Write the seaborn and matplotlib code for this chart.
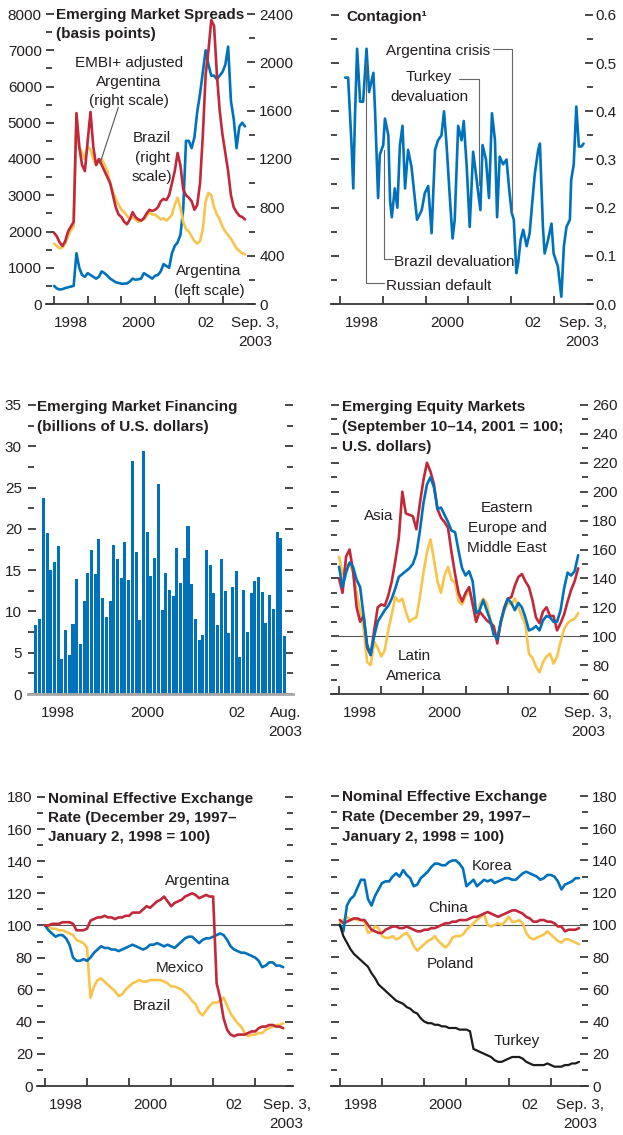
import numpy as np
import pandas as pd
import seaborn as sns
import matplotlib.pyplot as plt
from matplotlib.ticker import MultipleLocator, FormatStrFormatter

W, H = 623, 1135
BLUE = "#0072bb"
RED = "#c1283a"
YELLOW = "#f8c44b"
BLACK = "#1c1c1c"
INK = "#231f20"
AXIS = "#3a3a3a"

# monthly observations, Jan 1998 .. Sep 2003
months = 1998 + np.arange(69) / 12

# --- Emerging market spreads (basis points) ---
argentina_spread = [500, 430, 400, 410, 440, 460, 480, 500, 1400, 1000, 800, 750,
                    850, 800, 750, 700, 750, 900, 850, 780, 700, 650, 600, 580,
                    560, 560, 570, 620, 700, 670, 680, 700, 850, 800, 750, 700,
                    780, 800, 900, 1100, 1050, 1000, 1400, 1600, 1700, 1900, 2600, 4500,
                    4500, 4300, 4600, 5300, 5800, 6400, 7000, 6600, 6300, 6300, 6200, 6300,
                    6400, 6600, 7100, 5600, 5100, 4300, 4900, 5000, 4900]
embi_adjusted = [500, 480, 460, 470, 500, 560, 610, 640, 1550, 1300, 1250, 1200,
                 1300, 1280, 1200, 1150, 1180, 1200, 1150, 1100, 1000, 930, 870, 820,
                 780, 760, 730, 700, 720, 700, 680, 690, 700, 730, 760, 740,
                 740, 720, 700, 710, 690, 710, 740, 820, 880, 800, 680, 620,
                 600, 560, 520, 500, 520, 620, 850, 920, 900, 800, 740, 700,
                 640, 600, 570, 540, 500, 460, 440, 420, 410]
brazil_spread = [590, 560, 510, 480, 520, 600, 640, 680, 1580, 1300, 1150, 1100,
                 1350, 1590, 1300, 1150, 1200, 1150, 1100, 1050, 1000, 900, 800, 740,
                 720, 680, 660, 700, 760, 720, 700, 690, 710, 750, 780, 770,
                 780, 800, 850, 870, 860, 900, 1000, 1100, 1250, 1150, 950, 900,
                 880, 850, 780, 820, 1000, 1400, 1900, 2100, 2350, 2300, 1900, 1600,
                 1400, 1250, 1100, 900, 800, 760, 730, 720, 700]

# --- Contagion index (irregular readings) ---
contagion_dates = [1998.12, 1998.19, 1998.27, 1998.31, 1998.35, 1998.40, 1998.47, 1998.54,
                   1998.62, 1998.68, 1998.78, 1998.82, 1998.89, 1998.93, 1999.01, 1999.05,
                   1999.13, 1999.17, 1999.21, 1999.28, 1999.34, 1999.40, 1999.46, 1999.52,
                   1999.59, 1999.67, 1999.80, 1999.91, 1999.98, 2000.06, 2000.14, 2000.22,
                   2000.29, 2000.37, 2000.43, 2000.49, 2000.57, 2000.63, 2000.68, 2000.76,
                   2000.84, 2000.89, 2000.96, 2001.03, 2001.11, 2001.19, 2001.23, 2001.28,
                   2001.33, 2001.41, 2001.48, 2001.55, 2001.62, 2001.67, 2001.73, 2001.81,
                   2001.89, 2001.95, 2002.01, 2002.06, 2002.12, 2002.16, 2002.22, 2002.28,
                   2002.36, 2002.43, 2002.50, 2002.55, 2002.63, 2002.67, 2002.74, 2002.78,
                   2002.86, 2002.94, 2002.99, 2003.09, 2003.17, 2003.23, 2003.29, 2003.37,
                   2003.40, 2003.46, 2003.52, 2003.58, 2003.64, 2003.69]
contagion = [0.47, 0.47, 0.33, 0.24, 0.39, 0.53, 0.42, 0.42,
             0.53, 0.44, 0.48, 0.40, 0.22, 0.31, 0.33, 0.385,
             0.35, 0.215, 0.18, 0.24, 0.20, 0.33, 0.37, 0.24,
             0.32, 0.285, 0.175, 0.195, 0.23, 0.245, 0.147, 0.32,
             0.34, 0.35, 0.40, 0.33, 0.215, 0.136, 0.175, 0.37,
             0.34, 0.38, 0.285, 0.16, 0.316, 0.26, 0.23, 0.195,
             0.33, 0.30, 0.22, 0.396, 0.34, 0.18, 0.306, 0.29,
             0.30, 0.24, 0.19, 0.175, 0.064, 0.084, 0.133, 0.154,
             0.12, 0.147, 0.22, 0.27, 0.32, 0.333, 0.16, 0.105,
             0.133, 0.167, 0.105, 0.078, 0.015, 0.12, 0.16, 0.175,
             0.257, 0.29, 0.41, 0.327, 0.327, 0.333]
events = {"Russian default": 1998.61, "Brazil devaluation": 1999.03,
          "Turkey devaluation": 2001.25, "Argentina crisis": 2002.02}

# --- Emerging market financing, Jan 1998 .. Aug 2003 (billions of US$) ---
financing_months = pd.period_range("1998-01", "2003-08", freq="M").strftime("%b %Y")
financing = [8.4, 9.1, 23.7, 19.5, 15.0, 16.0, 17.9, 4.2, 7.7, 4.7, 8.5, 13.9,
             6.0, 11.3, 14.6, 17.5, 14.5, 18.8, 11.6, 9.3, 11.3, 18.0, 16.3, 14.0,
             18.4, 13.8, 28.2, 17.2, 9.0, 29.4, 19.6, 14.3, 16.5, 25.4, 10.2, 14.6,
             12.6, 11.9, 17.7, 13.4, 16.5, 20.4, 13.3, 9.1, 6.5, 7.1, 17.4, 15.6,
             12.2, 8.4, 16.3, 12.5, 7.4, 12.9, 14.9, 4.5, 12.6, 7.5, 12.2, 13.7,
             14.2, 12.3, 8.6, 12.0, 10.3, 19.6, 18.9, 7.0]

# --- Emerging equity markets (Sep 10-14, 2001 = 100) ---
latin_america = [155, 143, 149, 150, 144, 130, 118, 105, 82, 80, 96, 92,
                 86, 90, 104, 115, 127, 124, 126, 117, 110, 112, 113, 127,
                 144, 158, 167, 153, 138, 130, 142, 148, 139, 137, 124, 122,
                 128, 132, 124, 110, 122, 126, 123, 112, 106, 97, 109, 118,
                 123, 122, 126, 120, 114, 108, 88, 85, 79, 75, 82, 86,
                 88, 81, 86, 96, 105, 109, 111, 112, 116]
asia = [140, 130, 155, 160, 145, 120, 110, 114, 92, 87, 104, 120,
        122, 121, 128, 138, 152, 168, 200, 185, 184, 183, 174, 192,
        208, 220, 214, 205, 188, 182, 179, 175, 158, 143, 130, 124,
        130, 134, 122, 110, 117, 114, 111, 109, 107, 95, 110, 120,
        126, 127, 135, 141, 143, 138, 134, 125, 113, 109, 117, 120,
        114, 114, 104, 109, 115, 124, 132, 138, 147]
eastern_europe = [148, 134, 144, 151, 148, 139, 134, 114, 94, 87, 100, 110,
                  114, 118, 121, 126, 133, 141, 143, 145, 147, 150, 157, 173,
                  192, 205, 210, 203, 188, 189, 184, 179, 173, 172, 159, 147,
                  142, 145, 138, 116, 118, 125, 118, 111, 101, 98, 110, 119,
                  126, 123, 118, 123, 120, 113, 104, 105, 107, 104, 111, 114,
                  113, 110, 110, 118, 133, 144, 142, 145, 156]

# --- Nominal effective exchange rates (Dec 29, 1997 - Jan 2, 1998 = 100) ---
mexico = [100, 97, 95, 93, 94, 94, 92, 88, 80, 78, 78, 79,
          78, 80, 83, 85, 87, 86, 86, 85, 85, 84, 85, 86,
          87, 88, 87, 86, 85, 86, 88, 88, 89, 88, 87, 88,
          87, 86, 88, 90, 92, 93, 93, 91, 89, 91, 92, 92,
          93, 94, 95, 94, 91, 87, 85, 84, 83, 83, 82, 81,
          80, 78, 74, 75, 77, 77, 75, 75, 74]
brazil_neer = [100, 99, 98, 98, 97, 97, 96, 95, 94, 91, 90, 89,
               86, 55, 62, 66, 67, 65, 63, 61, 59, 56, 57, 60,
               62, 64, 65, 66, 65, 65, 66, 66, 66, 66, 65, 64,
               62, 62, 61, 60, 58, 56, 53, 51, 46, 44, 47, 50,
               52, 52, 53, 55, 50, 45, 42, 39, 37, 33, 31, 32,
               32, 33, 33, 35, 36, 37, 38, 38, 39]
argentina_neer = [100, 100, 101, 101, 101, 102, 102, 102, 101, 97, 97, 97,
                  98, 103, 104, 105, 105, 106, 105, 105, 104, 105, 105, 106,
                  106, 108, 108, 108, 110, 112, 111, 113, 115, 116, 118, 115,
                  112, 114, 115, 116, 118, 119, 120, 119, 117, 118, 119, 118,
                  118, 64, 55, 42, 35, 32, 31, 32, 32, 32, 33, 34,
                  34, 36, 37, 37, 38, 38, 37, 37, 36]
korea = [100, 96, 112, 116, 118, 123, 128, 128, 116, 112, 118, 122,
         126, 127, 127, 130, 132, 130, 134, 131, 129, 124, 125, 129,
         131, 133, 136, 138, 138, 137, 137, 139, 140, 140, 138, 135,
         124, 126, 128, 124, 126, 128, 127, 128, 126, 127, 128, 129,
         129, 128, 128, 130, 132, 133, 132, 131, 130, 128, 129, 131,
         131, 130, 127, 122, 125, 126, 127, 129, 129]
poland = [101, 103, 105, 103, 104, 103, 103, 102, 95, 96, 99, 98,
          93, 92, 92, 93, 91, 92, 94, 95, 92, 87, 84, 86,
          88, 90, 91, 93, 90, 88, 86, 88, 92, 93, 93, 94,
          97, 99, 101, 103, 105, 107, 100, 99, 100, 101, 100, 102,
          105, 102, 102, 103, 101, 95, 92, 91, 92, 93, 94, 96,
          94, 92, 90, 89, 91, 91, 90, 89, 88]
china = [103, 101, 102, 103, 104, 104, 103, 103, 100, 97, 96, 95,
         95, 97, 98, 99, 99, 98, 98, 99, 98, 97, 96, 96,
         97, 97, 98, 98, 99, 100, 101, 101, 102, 102, 103, 103,
         103, 104, 105, 105, 106, 107, 108, 107, 106, 105, 106, 107,
         108, 109, 109, 108, 107, 105, 104, 102, 102, 103, 103, 102,
         102, 101, 99, 99, 96, 97, 97, 97, 98]
turkey = [100, 93, 89, 85, 82, 80, 78, 76, 74, 70, 67, 63,
          61, 59, 57, 55, 53, 52, 51, 49, 48, 46, 45, 42,
          40, 39, 39, 38, 38, 37, 37, 36, 36, 36, 35, 35,
          35, 34, 23, 22, 21, 20, 19, 18, 16, 15, 15, 16,
          17, 18, 18, 18, 17, 15, 14, 13, 13, 13, 13, 14,
          13, 12, 12, 12, 13, 13, 14, 14, 15]

sns.set_theme(style="ticks")
plt.rcParams["font.family"] = ["Liberation Sans", "DejaVu Sans"]
plt.rcParams["font.size"] = 11
plt.rcParams["text.color"] = INK

fig = plt.figure(figsize=(W / 100, H / 100), dpi=100)
fig.patch.set_facecolor("white")


def panel(left, top, right, bottom):
    ax = fig.add_axes([left / W, 1 - bottom / H, (right - left) / W, (bottom - top) / H])
    ax.set_facecolor("none")
    return ax


def ftext(x, y, s, ha="center", bold=False):
    # y is the vertical middle of the first line's capitals, in pixels
    fig.text(x / W, 1 - (y - 5.5) / H, s, ha=ha, va="top", fontsize=11,
             fontweight="bold" if bold else "normal", linespacing=1.5, color=INK)


def frame(ax, xlim, end_x, end_label, year_ticks=True):
    ax.set_xlim(*xlim)
    for side in ("left", "right", "top"):
        ax.spines[side].set_visible(False)
    ax.spines["bottom"].set_color(AXIS)
    ax.spines["bottom"].set_linewidth(1.3)
    ax.set_xlabel("")
    ax.set_ylabel("")
    ax.grid(False)
    ax.tick_params(axis="x", which="major", length=0, pad=8.5, labelsize=11, labelcolor=INK)
    if year_ticks:
        ax.set_xticks([1998.5, 2000.5, 2002.5, end_x], ["1998", "2000", "02", end_label])
        ax.set_xticks(range(1998, 2004), minor=True)
        ax.tick_params(axis="x", which="minor", direction="in", length=6, width=1.3, color=AXIS)
    for lab in ax.get_xticklabels():
        lab.set_linespacing(1.5)


def yscale(ax, lo, hi, major, minor, labelleft, labelright, left=True, right=True,
           fmt=None, pad=3):
    ax.set_ylim(lo, hi)
    ax.yaxis.set_major_locator(MultipleLocator(major))
    ax.yaxis.set_minor_locator(MultipleLocator(minor))
    ax.tick_params(axis="y", which="both", direction="in", left=left, right=right,
                   labelleft=labelleft, labelright=labelright, color=AXIS, width=1.3,
                   labelcolor=INK, labelsize=11, pad=pad)
    ax.tick_params(axis="y", which="major", length=6)
    ax.tick_params(axis="y", which="minor", length=4)
    if fmt:
        ax.yaxis.set_major_formatter(FormatStrFormatter(fmt))


def lines(ax, frame_df, palette, lw=1.9):
    long = frame_df.melt(id_vars="date", var_name="series", value_name="value")
    sns.lineplot(data=long, x="date", y="value", hue="series", palette=palette,
                 linewidth=lw, legend=False, ax=ax)


# ---------------- Panel 1: spreads ----------------
ax1 = panel(46, 14, 255, 304)
ax1r = ax1.twinx()
ax1r.set_position(ax1.get_position())
lines(ax1, pd.DataFrame({"date": months, "Argentina": argentina_spread}), [BLUE])
lines(ax1r, pd.DataFrame({"date": months, "EMBI+ adjusted Argentina": embi_adjusted,
                          "Brazil": brazil_spread}), [YELLOW, RED])
xl1 = (1997.763, 2003.964)
frame(ax1, xl1, 2003.96, "Sep. 3,\n2003")
frame(ax1r, xl1, 2003.96, "Sep. 3,\n2003")
ax1r.spines["bottom"].set_visible(False)
ax1r.tick_params(axis="x", which="both", bottom=False, labelbottom=False)
yscale(ax1, 0, 8000, 1000, 500, True, False, right=False)
yscale(ax1r, 0, 2400, 400, 200, False, True, left=False)
ax1r.plot([1999.91, 1999.365], [1628, 1164], color="#555555", lw=0.8)
ftext(56, 13, "Emerging Market Spreads\n(basis points)", ha="left", bold=True)
ftext(129, 61, "EMBI+ adjusted\nArgentina\n(right scale)")
ftext(152, 137, "Brazil\n(right\nscale)")
ftext(209, 270, "Argentina\n(left scale)")

# ---------------- Panel 2: contagion ----------------
ax2 = panel(331, 15, 593, 304)
lines(ax2, pd.DataFrame({"date": contagion_dates, "Contagion": contagion}), [BLUE])
frame(ax2, (1997.79, 2003.91), 2003.67, "Sep. 3,\n2003")
yscale(ax2, 0, 0.6, 0.1, 0.05, False, True, fmt="%.1f", pad=2)
lead = dict(color="#666666", lw=0.8)
ax2.plot([2001.57, events["Argentina crisis"], events["Argentina crisis"]], [0.529, 0.529, 0.189], **lead)
ax2.plot([2000.77, events["Turkey devaluation"], events["Turkey devaluation"]], [0.467, 0.467, 0.247], **lead)
ax2.plot([events["Brazil devaluation"], events["Brazil devaluation"], 1999.23], [0.32, 0.093, 0.093], **lead)
ax2.plot([events["Russian default"], events["Russian default"], events["Brazil devaluation"]], [0.503, 0.044, 0.044], **lead)
ftext(346, 15, "Contagion¹", ha="left", bold=True)
ftext(490, 49, "Argentina crisis", ha="right")
ftext(429, 76, "Turkey\ndevaluation")
ftext(394, 260, "Brazil devaluation", ha="left")
ftext(386, 284, "Russian default", ha="left")

# ---------------- Panel 3: financing ----------------
ax3 = panel(28, 405, 293, 694)
fin_df = pd.DataFrame({"month": financing_months, "financing": financing})
sns.barplot(data=fin_df, x="month", y="financing", color=BLUE, saturation=1,
            width=0.82, errorbar=None, linewidth=0, ax=ax3)
frame(ax3, (-2.13, 69.3), None, None, year_ticks=False)
ax3.set_xticks([6.0, 29.9, 54.3, 67.3], ["1998", "2000", "02", "Aug.\n2003"])
ax3.set_xticks([], minor=True)
for lab in ax3.get_xticklabels():
    lab.set_linespacing(1.5)
ax3.spines["bottom"].set_color("#a8a8a8")
ax3.spines["bottom"].set_linewidth(2)
yscale(ax3, 0, 35, 5, 2.5, True, False, pad=4.5)
ftext(37, 406, "Emerging Market Financing\n(billions of U.S. dollars)", ha="left", bold=True)

# ---------------- Panel 4: equity markets ----------------
ax4 = panel(331, 405, 588, 694)
ax4.axhline(100, color="#555555", lw=0.8, zorder=1)
lines(ax4, pd.DataFrame({"date": months, "Latin America": latin_america, "Asia": asia,
                         "Eastern Europe and Middle East": eastern_europe}),
      [YELLOW, RED, BLUE])
frame(ax4, (1997.81, 2003.90), 2003.90, "Sep. 3,\n2003")
yscale(ax4, 60, 260, 20, 10, False, True)
ftext(342, 406, "Emerging Equity Markets\n(September 10–14, 2001 = 100;\nU.S. dollars)",
      ha="left", bold=True)
ftext(379, 514, "Asia")
ftext(507, 507, "Eastern\nEurope and\nMiddle East")
ftext(414, 655, "Latin\nAmerica")

# ---------------- Panel 5: NEER, Latin America ----------------
ax5 = panel(37, 797, 293, 1086)
ax5.axhline(100, color="#555555", lw=0.8, zorder=1)
lines(ax5, pd.DataFrame({"date": months, "Brazil": brazil_neer, "Mexico": mexico,
                         "Argentina": argentina_neer}), [YELLOW, BLUE, RED])
frame(ax5, (1997.81, 2003.90), 2003.75, "Sep. 3,\n2003")
yscale(ax5, 0, 180, 20, 10, True, False)
ftext(48, 797, "Nominal Effective Exchange\nRate (December 29, 1997–\nJanuary 2, 1998 = 100)",
      ha="left", bold=True)
ftext(198, 879, "Argentina")
ftext(180, 966, "Mexico")
ftext(152, 1005, "Brazil")

# ---------------- Panel 6: NEER, Asia and Europe ----------------
ax6 = panel(331, 796, 588, 1086)
ax6.axhline(100, color="#555555", lw=0.8, zorder=1)
lines(ax6, pd.DataFrame({"date": months, "Poland": poland, "China": china, "Korea": korea}),
      [YELLOW, RED, BLUE])
lines(ax6, pd.DataFrame({"date": months, "Turkey": turkey}), [BLACK], lw=1.6)
frame(ax6, (1997.79, 2003.88), 2003.69, "Sep. 3,\n2003")
yscale(ax6, 0, 180, 20, 10, False, True)
ftext(342, 796, "Nominal Effective Exchange\nRate (December 29, 1997–\nJanuary 2, 1998 = 100)",
      ha="left", bold=True)
ftext(492, 865, "Korea")
ftext(448, 907, "China")
ftext(450, 962, "Poland")
ftext(517, 1040, "Turkey")

fig.savefig("out.png", dpi=100, facecolor="white")
